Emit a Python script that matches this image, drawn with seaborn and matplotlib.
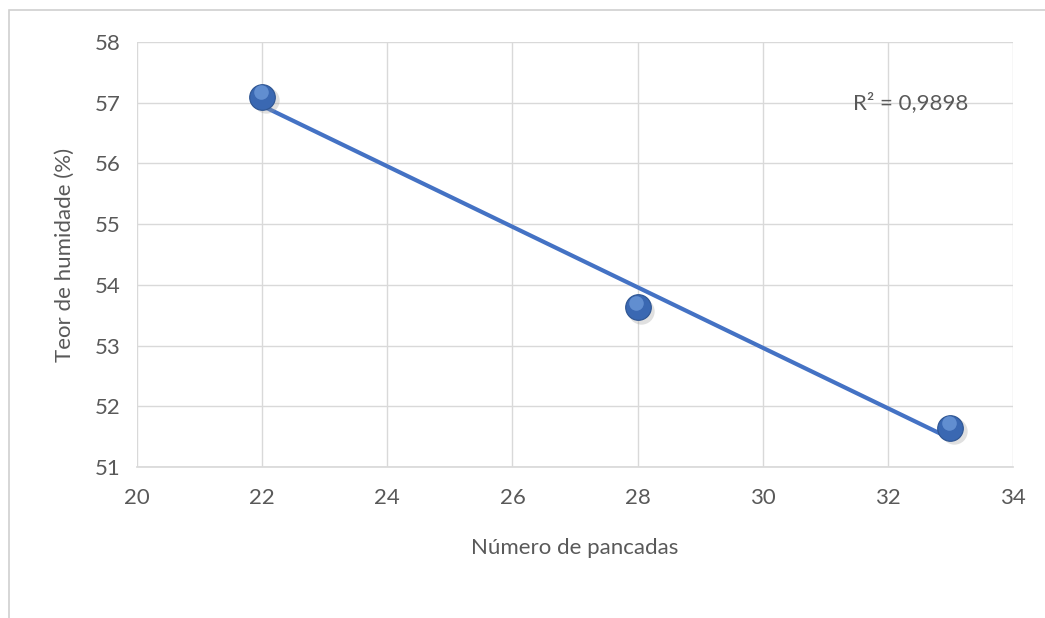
import matplotlib
matplotlib.use('Agg')
import matplotlib.pyplot as plt
from matplotlib.patches import Rectangle
import numpy as np
import pandas as pd
import seaborn as sns

# data
pancadas = [22, 28, 33]
humidade = [57.10, 53.63, 51.65]
x_ticks = [20, 22, 24, 26, 28, 30, 32, 34]
y_ticks = [51, 52, 53, 54, 55, 56, 57, 58]
r2_label = 'R² = 0,9898'

df = pd.DataFrame({'pancadas': pancadas, 'humidade': humidade})

sns.set_theme(style='white')
plt.rcParams['font.family'] = ['Lato', 'DejaVu Sans']

txt = '#595959'
grid = '#D9D9D9'
blue = '#4472C4'
fs = 16

fig = plt.figure(figsize=(10.45, 6.18), dpi=100)
ax = fig.add_axes([0.1311, 0.2443, 0.8383, 0.6877])

# outer chart frame (cut at right / bottom like the screenshot)
fig.add_artist(Rectangle((9 / 1045, -0.1), 1.2, 1 - 10 / 618 + 0.1,
                         transform=fig.transFigure, fill=False,
                         edgecolor='#D0D0D0', linewidth=1.2))

# trendline
sns.regplot(data=df, x='pancadas', y='humidade', ax=ax, ci=None,
            scatter=False, truncate=True,
            line_kws=dict(color=blue, linewidth=3, zorder=3))

# sphere-like markers: shadow, body, highlight
ax.scatter(np.array(pancadas) + 0.06, np.array(humidade) - 0.06, s=360,
           color='#9A9A9A', alpha=0.3, linewidths=0, zorder=4)
sns.scatterplot(data=df, x='pancadas', y='humidade', ax=ax, s=340,
                color='#3A68B2', edgecolor='#2D5491', linewidth=0.8,
                zorder=5, legend=False)
ax.scatter(np.array(pancadas) - 0.02, np.array(humidade) + 0.07, s=110,
           color='#6F9BDB', alpha=0.75, linewidths=0, zorder=6)

ax.text(31.45, 57.0, r2_label, fontsize=fs, color=txt, va='center', ha='left')

ax.set_xlim(20, 34)
ax.set_ylim(51, 58)
ax.set_xticks(x_ticks)
ax.set_yticks(y_ticks)
ax.grid(True, color=grid, linewidth=1)
ax.set_axisbelow(True)
for s in ['top', 'right', 'left']:
    ax.spines[s].set_visible(False)
ax.spines['bottom'].set_color(grid)
ax.tick_params(axis='both', labelsize=fs, colors=txt, length=0)
ax.tick_params(axis='x', pad=15)
ax.tick_params(axis='y', pad=12)
ax.set_xlabel('Número de pancadas', fontsize=fs, color=txt, labelpad=22)
ax.set_ylabel('Teor de humidade (%)', fontsize=fs, color=txt, labelpad=14)

fig.savefig('out.png', dpi=100)
